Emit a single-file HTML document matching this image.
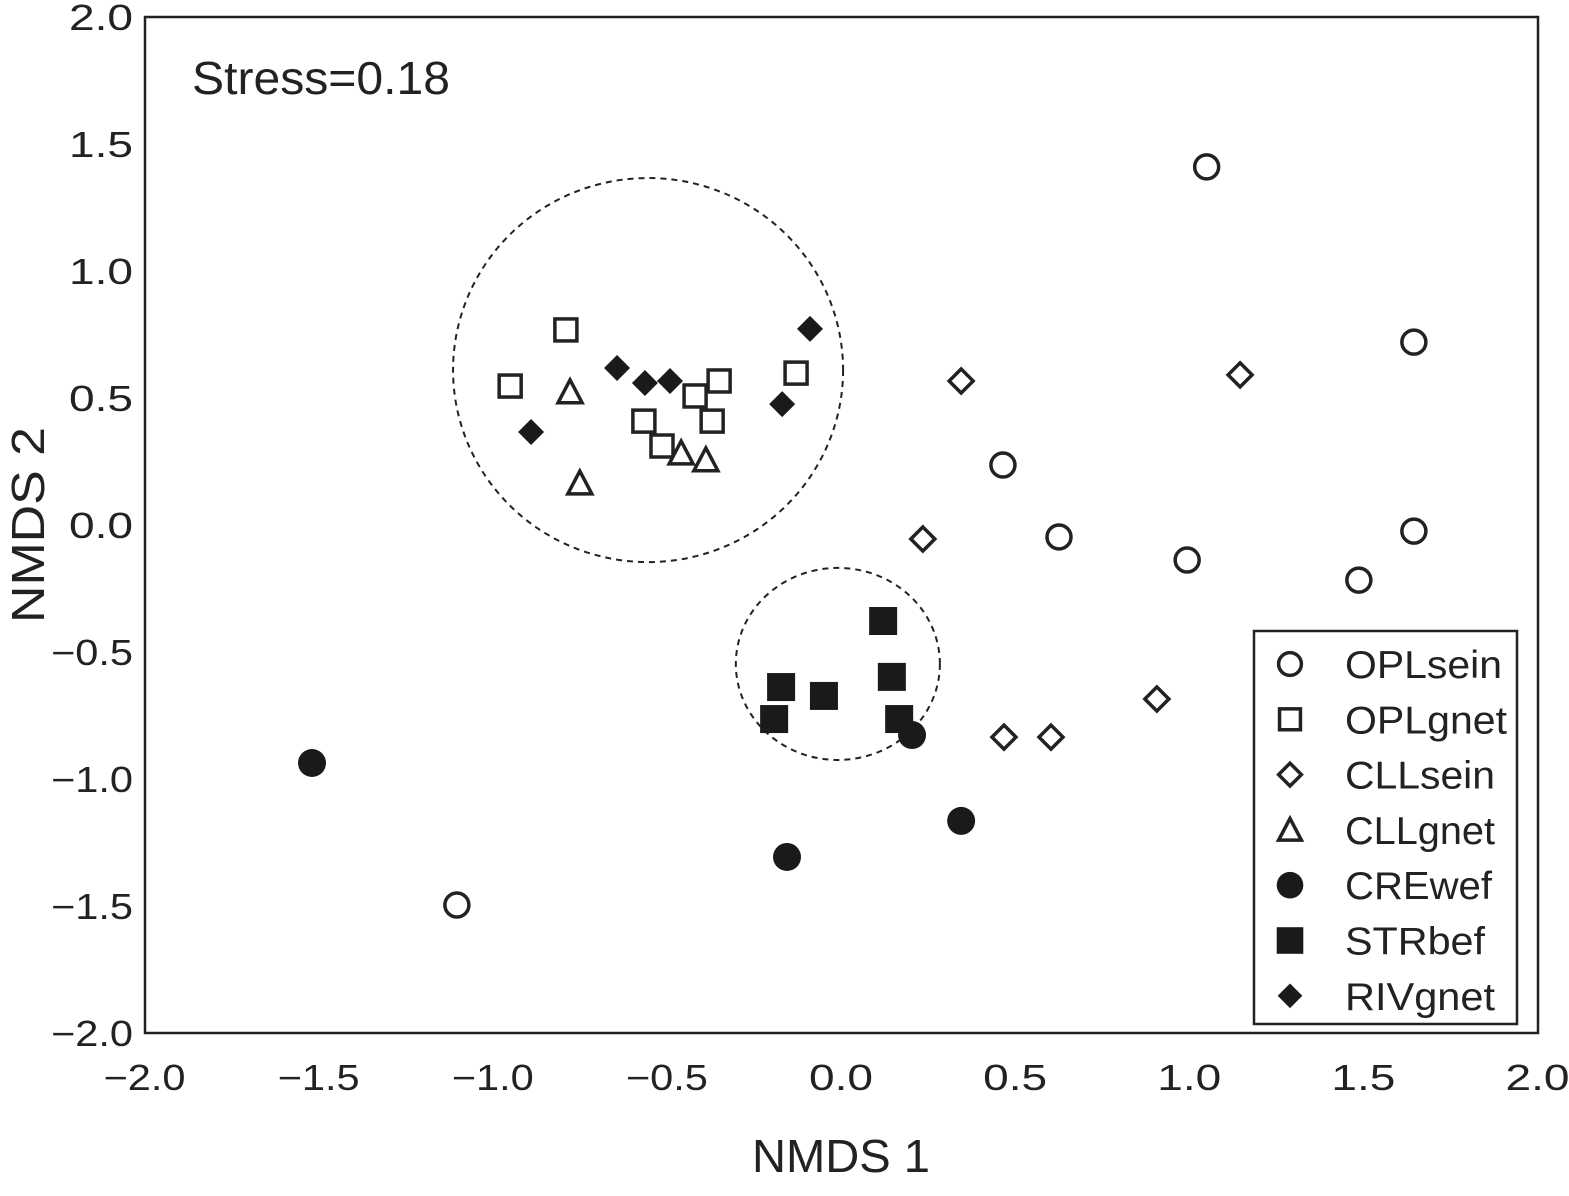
<!DOCTYPE html>
<html><head><meta charset="utf-8"><style>
html,body{margin:0;padding:0;background:#fff;}
svg{display:block;font-family:"Liberation Sans",sans-serif;}
</style></head><body>
<svg id="chart" width="1569" height="1196" viewBox="0 0 1569 1196">
<rect x="145" y="17" width="1393" height="1016" fill="none" stroke="#222" stroke-width="2.5"/>
<text x="192" y="94" font-size="46" textLength="258" lengthAdjust="spacingAndGlyphs" fill="#222">Stress=0.18</text>
<text x="841" y="1172" font-size="46" textLength="178" lengthAdjust="spacingAndGlyphs" fill="#222" text-anchor="middle">NMDS 1</text>
<text transform="translate(44,525) rotate(-90)" font-size="46" textLength="196" lengthAdjust="spacingAndGlyphs" fill="#222" text-anchor="middle">NMDS 2</text>
<g id="ticks"></g><g id="ellipses"></g><g id="points"></g>
<g>
<rect x="1254" y="631" width="263" height="393" fill="#fff" stroke="#222" stroke-width="2.5"/>
<g id="legend"></g>
</g>
</svg>
<script>
const NS="http://www.w3.org/2000/svg";
const xTicks=[-2.0,-1.5,-1.0,-0.5,0.0,0.5,1.0,1.5,2.0];
const yTicks=[-2.0,-1.5,-1.0,-0.5,0.0,0.5,1.0,1.5,2.0];
const seriesNames=["OPLsein","OPLgnet","CLLsein","CLLgnet","CREwef","STRbef","RIVgnet"];
const oplseinX=[1.05,1.645,0.465,0.626,1.645,0.994,1.487,-1.103];
const oplseinY=[1.41,0.72,0.236,-0.047,-0.024,-0.138,-0.217,-1.496];
const oplgnetX=[-0.79,-0.95,-0.566,-0.514,-0.419,-0.35,-0.37,-0.129];
const oplgnetY=[0.768,0.547,0.409,0.311,0.508,0.567,0.409,0.598];
const cllseinX=[0.345,1.146,0.235,0.907,0.468,0.603];
const cllseinY=[0.567,0.591,-0.055,-0.685,-0.835,-0.835];
const cllgnetX=[-0.778,-0.75,-0.459,-0.388];
const cllgnetY=[0.524,0.165,0.283,0.256];
const crewefX=[-1.519,0.204,0.345,-0.155];
const crewefY=[-0.937,-0.827,-1.165,-1.307];
const strbefX=[0.121,0.146,-0.172,-0.049,-0.192,0.167];
const strbefY=[-0.378,-0.598,-0.638,-0.673,-0.764,-0.764];
const rivgnetX=[-0.089,-0.643,-0.563,-0.491,-0.169,-0.89];
const rivgnetY=[0.772,0.618,0.559,0.567,0.476,0.366];
const ellipseCX=[-0.554,-0.009];
const ellipseCY=[0.61,-0.547];
const ellipseRX=[0.56,0.293];
const ellipseRY=[0.756,0.378];

const sx=v=>841+v*348.25, sy=v=>525-v*254;
function mk(tag,attrs,parent){const e=document.createElementNS(NS,tag);for(const k in attrs)e.setAttribute(k,attrs[k]);parent.appendChild(e);return e;}
const ticks=document.getElementById('ticks');
xTicks.forEach(v=>{const t=mk('text',{x:sx(v),y:1090,'font-size':36,'text-anchor':'middle',fill:'#222',textLength:(v<0?82:64),lengthAdjust:'spacingAndGlyphs'},ticks);t.textContent=(v<0?'\u2212':'')+Math.abs(v).toFixed(1);

});
yTicks.forEach(v=>{const t=mk('text',{x:133,y:sy(v)+13,'font-size':36,'text-anchor':'end',fill:'#222',textLength:(v<0?82:64),lengthAdjust:'spacingAndGlyphs'},ticks);t.textContent=(v<0?'\u2212':'')+Math.abs(v).toFixed(1);

});
const eg=document.getElementById('ellipses');
ellipseCX.forEach((c,i)=>{const e=mk('ellipse',{cx:sx(c),cy:sy(ellipseCY[i]),rx:ellipseRX[i]*348.25,ry:ellipseRY[i]*254,fill:'none',stroke:'#222','stroke-width':2,'stroke-dasharray':'6 5'},eg);

});
function marker(type,x,y,p,scale){
  scale=scale||1;let e;
  const o={stroke:'#222','stroke-width':3.5,fill:'#fff'};const f={fill:'#1a1a1a',stroke:'none'};
  if(type==0)e=mk('circle',Object.assign({cx:x,cy:y,r:12*scale},o),p);
  else if(type==1){const s=11*scale;e=mk('rect',Object.assign({x:x-s,y:y-s,width:2*s,height:2*s},o),p);}
  else if(type==2){const s=12*scale;e=mk('polygon',Object.assign({points:`${x},${y-s} ${x+s},${y} ${x},${y+s} ${x-s},${y}`},o),p);}
  else if(type==3){const s=12*scale;e=mk('polygon',Object.assign({points:`${x},${y-s} ${x+s},${y+s*0.9} ${x-s},${y+s*0.9}`},o),p);}
  else if(type==4)e=mk('circle',Object.assign({cx:x,cy:y,r:14*scale},f),p);
  else if(type==5){const s=14*scale;e=mk('rect',Object.assign({x:x-s,y:y-s,width:2*s,height:2*s},f),p);}
  else {const s=13*scale;e=mk('polygon',Object.assign({points:`${x},${y-s} ${x+s},${y} ${x},${y+s} ${x-s},${y}`},f),p);}
  return e;
}
const xs=[oplseinX,oplgnetX,cllseinX,cllgnetX,crewefX,strbefX,rivgnetX];
const ys=[oplseinY,oplgnetY,cllseinY,cllgnetY,crewefY,strbefY,rivgnetY];
const pg=document.getElementById('points');
xs.forEach((arr,si)=>arr.forEach((v,i)=>{const e=marker(si,sx(v),sy(ys[si][i]),pg);

}));
const lg=document.getElementById('legend');
const legendWidths=[157,162,150,150,147,140,150];
seriesNames.forEach((n,i)=>{const y=664+i*55.3;const e=marker(i,1290,y,lg,0.95);


const t=mk('text',{x:1345,y:y+14,'font-size':39,fill:'#222',textLength:legendWidths[i],lengthAdjust:'spacingAndGlyphs'},lg);t.textContent=n;

});
</script>
</body></html>
